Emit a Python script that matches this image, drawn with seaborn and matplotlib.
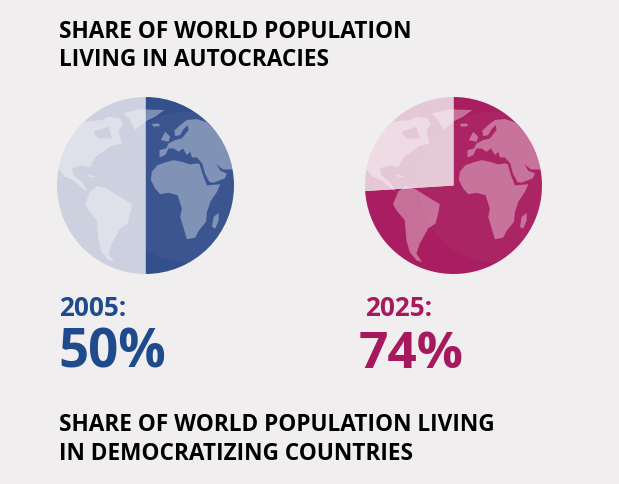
import numpy as np
import pandas as pd
import seaborn as sns
import matplotlib
matplotlib.use("Agg")
import matplotlib.pyplot as plt
from matplotlib.patches import Polygon, Circle

# ---- data ----
years = ["2005", "2025"]
autocracy_share = [50, 74]
labels = ["50%", "74%"]
top_title = ["SHARE OF WORLD POPULATION", "LIVING IN AUTOCRACIES"]
bottom_title = ["SHARE OF WORLD POPULATION LIVING", "IN DEMOCRATIZING COUNTRIES"]
dark_colors = ["#34508c", "#a91e60"]
pale_colors = ["#cdd1df", "#e5c8d6"]
text_colors = ["#1f4a8c", "#a6195c"]
globe_centers_px = [145.5, 453.5]

# continent outlines (units: 1/265 of radius from globe centre)
africa = [(332,300),(335,275),(352,255),(375,247),(400,240),(425,245),(450,253),(470,250),(478,252),(488,285),(500,316),(540,312),(530,335),(510,365),(500,395),(497,425),(475,452),(465,472),(440,477),(432,450),(420,410),(425,385),(412,345),(385,338),(360,342),(345,325)]
eurasia = [(402,152),(420,135),(440,120),(470,117),(500,127),(560,190),(600,268),(548,268),(528,252),(540,272),(560,280),(553,295),(518,308),(507,305),(494,280),(486,250),(470,232),(455,232),(450,215),(440,225),(428,205),(415,215),(400,205),(385,205),(375,225),(358,232),(358,210),(378,205),(385,190),(405,180),(425,175),(445,150),(442,135),(428,150),(420,165),(405,168)]
uk = [(362,180),(375,155),(390,170),(385,185)]
iceland = [(335,132),(355,130),(360,138),(340,140)]
greenland = [(250,100),(300,88),(372,90),(345,110),(320,122),(285,150),(270,120)]
madagascar = [(515,440),(520,410),(535,398),(535,420),(525,445)]
south_america = [(135,372),(150,335),(170,318),(200,325),(230,345),(275,372),(270,400),(262,430),(240,445),(215,490),(205,520),(222,545),(205,540),(185,515),(175,480),(170,420),(145,390)]
north_america = [(135,125),(185,120),(205,110),(240,115),(248,135),(235,150),(245,190),(215,197),(190,215),(168,228),(150,262),(125,255),(95,265),(100,285),(125,305),(142,332),(128,325),(100,300),(75,290),(40,250),(70,180),(110,130)]
cuba = [(140,282),(175,292),(150,290)]
hudson = [(160,155),(205,140),(215,175),(178,175),(165,165)]
land = [africa, eurasia, uk, iceland, greenland, madagascar, south_america, north_america, cuba]

sns.set_theme(style="white")
bg = "#f0eeef"
plt.rcParams["font.family"] = ["Open Sans", "DejaVu Sans"]
W, H = 619, 484
fig = plt.figure(figsize=(W / 100, H / 100), dpi=100, facecolor=bg)


def to_unit(pts):
    a = np.array(pts, float)
    return np.c_[(a[:, 0] - 316) / 265, (316 - a[:, 1]) / 265]


cy, r = 185.5, 88.5
for i, share in enumerate(autocracy_share):
    cx = globe_centers_px[i]
    ax = fig.add_axes([(cx - r) / W, 1 - (cy + r) / H, 2 * r / W, 2 * r / H])
    wedges, _ = ax.pie([share, 100 - share], colors=[dark_colors[i], pale_colors[i]],
                       startangle=90, counterclock=False, radius=1,
                       wedgeprops={"linewidth": 0, "edgecolor": "none"})
    clip = Circle((0, 0), 1, transform=ax.transData)
    for poly in land:
        p = Polygon(to_unit(poly), closed=True, fc="white", alpha=0.36, ec="none")
        ax.add_patch(p)
        p.set_clip_path(clip)
    ax.add_patch(Polygon(to_unit(hudson), closed=True, fc=pale_colors[i], ec="none"))
    glow = Circle(((440 - 316) / 265, (316 - 320) / 265), 225 / 265, fc="white", alpha=0.03, ec="none")
    ax.add_patch(glow)
    glow.set_clip_path(clip)
    ax.set_xlim(-1, 1)
    ax.set_ylim(-1, 1)
    ax.set_aspect("equal")
    ax.axis("off")


def put(x, y, s, size, color):
    fig.text(x / W, 1 - y / H, s, fontsize=size, color=color, fontweight="bold", va="baseline", ha="left")


put(59, 38, top_title[0], 16.3, "black")
put(59, 66, top_title[1], 16.3, "black")
put(59, 431, bottom_title[0], 16.3, "black")
put(59, 460, bottom_title[1], 16.3, "black")
put(59, 316, years[0] + ":", 18.8, text_colors[0])
put(365, 316, years[1] + ":", 18.8, text_colors[1])
put(58, 368, labels[0], 38, text_colors[0])
put(359, 368, labels[1], 37, text_colors[1])

fig.savefig("out.png", dpi=100, facecolor=bg)
